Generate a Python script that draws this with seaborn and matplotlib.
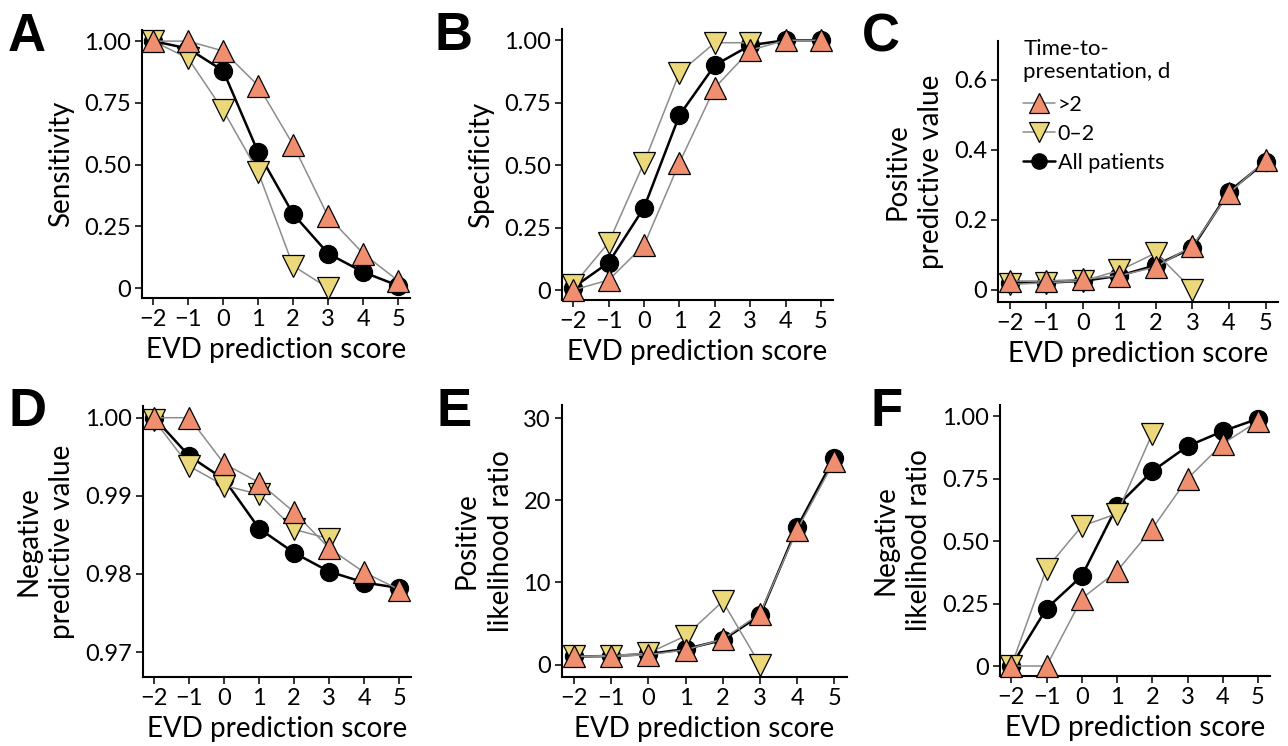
import numpy as np
import pandas as pd
import matplotlib
matplotlib.use("Agg")
import matplotlib.pyplot as plt
import seaborn as sns

sns.set_theme(style="ticks")
plt.rcParams["font.family"] = ["Lato", "DejaVu Sans"]
plt.rcParams["axes.unicode_minus"] = True
plt.rcParams["text.color"] = "black"
plt.rcParams["axes.labelcolor"] = "black"

scores = [-2, -1, 0, 1, 2, 3, 4, 5]
groups = [">2", "0\u20132", "All patients"]

# Sensitivity
sens_late = [1.00, 1.00, 0.96, 0.82, 0.58, 0.29, 0.14, 0.03]
sens_early = [1.00, 0.93, 0.72, 0.47, 0.09, 0.00, None, None]
sens_all = [1.00, 0.97, 0.88, 0.55, 0.30, 0.14, 0.065, 0.01]

# Specificity
spec_late = [0.00, 0.04, 0.18, 0.51, 0.81, 0.96, 1.00, 1.00]
spec_early = [0.02, 0.19, 0.51, 0.87, 0.99, 0.99, None, None]
spec_all = [0.01, 0.11, 0.33, 0.70, 0.90, 0.98, 1.00, 1.00]

# Positive predictive value
ppv_late = [0.025, 0.025, 0.03, 0.04, 0.065, 0.125, 0.275, 0.37]
ppv_early = [0.015, 0.02, 0.025, 0.055, 0.105, 0.00, None, None]
ppv_all = [0.02, 0.02, 0.025, 0.04, 0.07, 0.12, 0.28, 0.365]

# Negative predictive value
npv_late = [1.000, 1.000, 0.9941, 0.9917, 0.9879, 0.9833, 0.9802, 0.9780]
npv_early = [0.9997, 0.9938, 0.9913, 0.9902, 0.9857, 0.9845, None, None]
npv_all = [1.000, 0.9951, 0.9921, 0.9858, 0.9827, 0.9803, 0.9789, 0.9782]

# Positive likelihood ratio
plr_late = [1.0, 1.0, 1.2, 1.8, 3.1, 6.2, 16.4, 24.8]
plr_early = [1.0, 1.1, 1.4, 3.5, 7.7, 0.0, None, None]
plr_all = [1.0, 1.05, 1.3, 1.9, 3.0, 6.0, 16.7, 25.2]

# Negative likelihood ratio
nlr_late = [0.0, 0.0, 0.27, 0.38, 0.55, 0.75, 0.89, 0.98]
nlr_early = [0.0, 0.39, 0.56, 0.61, 0.93, None, None, None]
nlr_all = [0.0, 0.23, 0.36, 0.64, 0.78, 0.88, 0.94, 0.99]

ticks_unit = [0, 0.25, 0.5, 0.75, 1.0]
labels_unit = ["0", "0.25", "0.50", "0.75", "1.00"]
ticks_ppv = [0, 0.2, 0.4, 0.6]
labels_ppv = ["0", "0.2", "0.4", "0.6"]
ticks_npv = [0.97, 0.98, 0.99, 1.00]
labels_npv = ["0.97", "0.98", "0.99", "1.00"]
ticks_plr = [0, 10, 20, 30]
labels_plr = ["0", "10", "20", "30"]

panels = [
    ("A", "Sensitivity", sens_late, sens_early, sens_all, ticks_unit, labels_unit, (-0.04, 1.045)),
    ("B", "Specificity", spec_late, spec_early, spec_all, ticks_unit, labels_unit, (-0.04, 1.045)),
    ("C", "Positive\npredictive value", ppv_late, ppv_early, ppv_all, ticks_ppv, labels_ppv, (-0.035, 0.71)),
    ("D", "Negative\npredictive value", npv_late, npv_early, npv_all, ticks_npv, labels_npv, (0.9668, 1.0015)),
    ("E", "Positive\nlikelihood ratio", plr_late, plr_early, plr_all, ticks_plr, labels_plr, (-1.5, 31.6)),
    ("F", "Negative\nlikelihood ratio", nlr_late, nlr_early, nlr_all, ticks_unit, labels_unit, (-0.04, 1.045)),
]

# axes boxes in pixels: left, right, top, bottom
W, H = 1288, 746
boxes = [
    (142, 410, 30, 298),
    (562, 833, 29, 300),
    (998, 1278, 41, 302),
    (143, 411, 406, 677),
    (562, 847, 405, 677),
    (1000, 1270, 405, 676),
]
letter_pos = [(8, 51), (434, 50), (862, 51), (8, 426), (437, 426), (870, 426)]

ORANGE = "#EF8F70"
YELLOW = "#EAD87A"
GREY = "#8C8C8C"

styles = {
    ">2": dict(marker="^", mfc=ORANGE, ms=16.5, lc=GREY, lw=1.1, z=4),
    "0\u20132": dict(marker="v", mfc=YELLOW, ms=16.5, lc=GREY, lw=1.1, z=3),
    "All patients": dict(marker="o", mfc="black", ms=13, lc="black", lw=1.8, z=2),
}

fig = plt.figure(figsize=(W / 100, H / 100), dpi=100)

for (letter, ylabel, late, early, allp, yt, ytl, ylim), (l, r, t, b), (lx, ly) in zip(panels, boxes, letter_pos):
    ax = fig.add_axes([l / W, 1 - b / H, (r - l) / W, (b - t) / H])
    df = pd.DataFrame({"score": scores * 3,
                       "value": list(late) + list(early) + list(allp),
                       "group": [g for g in groups for _ in scores]})
    df = df.dropna()
    for g in ["All patients", "0\u20132", ">2"]:
        st = styles[g]
        sub = df[df["group"] == g]
        sns.lineplot(data=sub, x="score", y="value", ax=ax, color=st["lc"],
                     linewidth=st["lw"], marker=st["marker"], markersize=st["ms"],
                     markerfacecolor=st["mfc"], markeredgecolor="black",
                     markeredgewidth=0.9, zorder=st["z"], label=g, clip_on=False)
    ax.set_xlim(-2.32, 5.34)
    ax.set_ylim(*ylim)
    ax.set_xticks(scores)
    ax.set_xticklabels([str(s).replace("-", "\u2212") for s in scores])
    ax.set_yticks(yt)
    ax.set_yticklabels(ytl)
    ax.tick_params(axis="both", labelsize=17, length=5, width=1.3, color="#222222",
                   pad=3, labelcolor="black")
    for s in ["left", "bottom"]:
        ax.spines[s].set_linewidth(1.5)
        ax.spines[s].set_color("black")
    sns.despine(ax=ax)
    ax.set_xlabel("EVD prediction score", fontsize=20, labelpad=5, color="black")
    ax.set_ylabel(ylabel, fontsize=20, labelpad=7, color="black", linespacing=1.38)
    fig.text(lx / W, 1 - ly / H, letter, fontsize=38, fontweight="bold",
             family="Liberation Sans", ha="left", va="baseline", color="black")
    if letter == "C":
        handles, labels = ax.get_legend_handles_labels()
        order = [labels.index(g) for g in groups]
        leg = ax.legend([handles[i] for i in order], [labels[i] for i in order],
                        title="Time-to-\npresentation, d", loc="upper left",
                        bbox_to_anchor=(0.06, 1.04), frameon=False, fontsize=15.5,
                        title_fontsize=16, handlelength=1.45, handletextpad=0.15,
                        labelspacing=0.42, markerscale=0.85, borderaxespad=0)
        leg._legend_box.align = "left"
        leg._legend_box.sep = 9
    else:
        ax.get_legend().remove()

fig.savefig("out.png", dpi=100)
